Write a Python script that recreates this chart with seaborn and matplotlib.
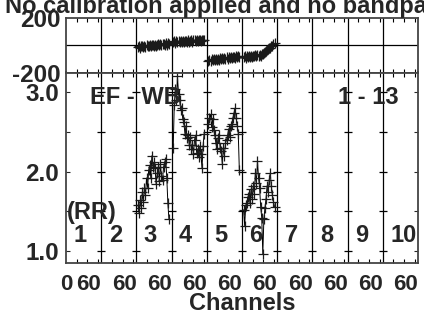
import matplotlib
matplotlib.use("Agg")
import matplotlib.pyplot as plt
import pandas as pd
import seaborn as sns

sns.set_style("white")
plt.rcParams["font.family"] = ["Liberation Sans", "DejaVu Sans"]
plt.rcParams["font.weight"] = "bold"

W, H = 424, 320
PANEL_WIDTH = 66
N_PANELS = 10

title = "No calibration applied and no bandpass applied"
baseline_label = "EF - WB"
time_label = "1 - 13"
pol_label = "(RR)"
panel_labels = [str(i) for i in range(1, N_PANELS + 1)]
xtick_labels = ["0"] + ["60"] * N_PANELS

channels = list(range(3, 62, 2))

amp_if3 = [1.58, 1.48, 1.64, 1.54, 1.74, 1.62, 1.80, 1.70, 1.92, 1.80,
           2.02, 2.08, 1.92, 2.20, 2.06, 2.12, 2.04, 1.84, 1.98, 2.06,
           1.88, 2.10, 1.94, 1.90, 2.06, 2.12, 2.16, 1.92, 1.60, 1.40]
amp_if4 = [2.30, 2.84, 3.04, 2.90, 3.20, 2.98, 2.90, 2.78, 2.80, 2.66,
           2.62, 2.48, 2.58, 2.42, 2.46, 2.34, 2.44, 2.28, 2.34, 2.22,
           2.40, 2.46, 2.24, 2.28, 2.18, 2.32, 2.22, 2.04, 2.32, 2.48]
amp_if5 = [2.60, 2.68, 2.72, 2.56, 2.66, 2.52, 2.46, 2.36, 2.28, 2.42,
           2.46, 2.30, 2.26, 2.10, 2.30, 2.20, 2.36, 2.40, 2.46, 2.54,
           2.44, 2.58, 2.60, 2.68, 2.74, 2.80, 2.68, 2.58, 2.48, 2.02]
amp_if6 = [1.52, 1.32, 1.58, 1.60, 1.68, 1.72, 1.60, 1.78, 1.66, 1.82,
           1.72, 1.98, 1.86, 2.14, 1.92, 1.80, 1.56, 1.42, 0.96, 1.40,
           1.54, 1.66, 1.82, 1.74, 1.90, 1.98, 1.82, 1.70, 1.62, 1.56]

phase_if3 = [-16, -8, -18, -10, -6, -14, -4, -12, -2, -10,
             -6, 0, -8, -2, 2, -6, 4, -4, 0, 6,
             -2, 8, 0, 6, 10, 2, 12, 4, 12, 6]
phase_if4 = [20, 28, 18, 30, 22, 28, 20, 30, 24, 32,
             22, 30, 28, 24, 34, 26, 32, 36, 26, 34,
             36, 28, 38, 30, 34, 40, 32, 38, 40, 34]
phase_if5 = [-114, -106, -116, -104, -112, -102, -110, -100, -108, -98,
             -106, -96, -104, -94, -102, -92, -100, -90, -98, -88,
             -96, -86, -94, -88, -84, -92, -82, -90, -80, -88]
phase_if6 = [-90, -82, -92, -80, -88, -80, -86, -76, -84, -76,
             -82, -74, -80, -72, -78, -70, -76, -68, -64, -58,
             -50, -46, -36, -30, -24, -18, -8, -4, 6, 12]

frames = []
for panel, amp, phase in [(3, amp_if3, phase_if3), (4, amp_if4, phase_if4),
                          (5, amp_if5, phase_if5), (6, amp_if6, phase_if6)]:
    frames.append(pd.DataFrame({"panel": panel, "channel": channels,
                                "amp": amp, "phase": phase}))
df = pd.concat(frames, ignore_index=True)
df["x"] = (df["panel"] - 1) * PANEL_WIDTH + df["channel"]

bounds = [k * PANEL_WIDTH for k in range(N_PANELS + 1)]
minor_x = [k * PANEL_WIDTH + o for k in range(N_PANELS) for o in (20, 40, 60)]

fig = plt.figure(figsize=(W / 100, H / 100), dpi=100)
left, right = 66 / W, 352 / W
ax_ph = fig.add_axes([left, 1 - 72.5 / H, right, 54.8 / H])
ax_amp = fig.add_axes([left, 1 - 262.7 / H, right, 190.2 / H])

line_kws = dict(units="panel", estimator=None, color="black", lw=0.7,
                marker="+", markersize=7, markeredgewidth=0.9,
                markeredgecolor="#1a1a1a", legend=False, sort=True)
sns.lineplot(data=df, x="x", y="phase", ax=ax_ph, **line_kws)
sns.lineplot(data=df, x="x", y="amp", ax=ax_amp, **line_kws)

for ax in (ax_ph, ax_amp):
    ax.set_xlim(0, N_PANELS * PANEL_WIDTH)
    for b in bounds[1:-1]:
        ax.axvline(b, color="black", lw=0.9, zorder=1)
    for s in ax.spines.values():
        s.set_color("#444444")
        s.set_linewidth(1.3)
    ax.set_xlabel("")
    ax.set_ylabel("")
    ax.set_xticks(minor_x, minor=True)
    ax.tick_params(axis="x", which="minor", direction="in", length=3,
                   width=0.8, top=True, bottom=True, color="black")

# phase panel
ax_ph.set_ylim(-200, 200)
ax_ph.axhline(0, color="black", lw=0.9, zorder=1)
ax_ph.set_yticks([-200, 200], labels=["-200", "200"])
ax_ph.set_xticks([])
ax_ph.tick_params(axis="y", length=0, labelsize=17.5, pad=4)

# amplitude panel
ax_amp.set_ylim(0.853, 3.249)
ax_amp.set_yticks([1.0, 2.0, 3.0], labels=["1.0", "2.0", "3.0"])
ax_amp.set_yticks([1.5, 2.5], minor=True)
ax_amp.tick_params(axis="y", which="both", direction="in", length=3,
                   width=0.8, left=True, right=True, labelsize=17.5, pad=5)
for yv in [1.0, 1.5, 2.0, 2.5, 3.0]:
    ax_amp.plot(bounds[1:-1], [yv] * (N_PANELS - 1), ls="none", marker="_",
                ms=6, mew=0.9, color="black", zorder=1)
ax_amp.set_xticks(bounds, labels=xtick_labels)
ax_amp.tick_params(axis="x", which="major", length=0, labelsize=16, pad=8)
for i, lab in enumerate(ax_amp.get_xticklabels()):
    lab.set_ha("center" if i == 0 else "right")
ax_amp.set_xlabel("Channels", fontsize=17, fontweight="bold", labelpad=-2)

# panel numbers
for k, lab in enumerate(panel_labels):
    ax_amp.text(k * PANEL_WIDTH + 14, 1.2, lab, fontsize=17,
                fontweight="bold", ha="left", va="center")

ax_amp.text(45, 2.94, baseline_label, fontsize=17, fontweight="bold",
            ha="left", va="center")
ax_amp.text(510, 2.94, time_label, fontsize=17, fontweight="bold",
            ha="left", va="center")
ax_amp.text(2, 1.49, pol_label, fontsize=17, fontweight="bold",
            ha="left", va="center")

fig.text(5 / W, 1 - 12.7 / H, title, fontsize=17, fontweight="bold",
         ha="left", va="baseline")

fig.savefig("out.png", dpi=100)
